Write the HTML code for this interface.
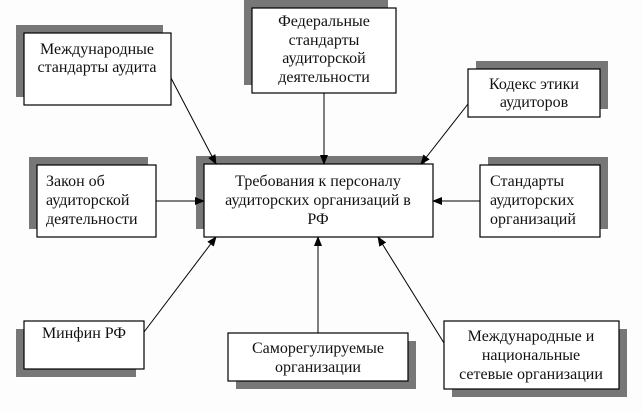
<!DOCTYPE html>
<html><head><meta charset="utf-8"><style>
html,body{margin:0;padding:0;background:#fdfdfd;}
svg{display:block;}
text{font-family:"Liberation Serif","DejaVu Serif",serif;font-size:16px;fill:#111;}
</style></head><body>
<svg width="643" height="413" viewBox="0 0 643 413" xmlns="http://www.w3.org/2000/svg">
<defs><marker id="a" markerWidth="10" markerHeight="8" refX="9" refY="4" orient="auto" markerUnits="userSpaceOnUse"><path d="M0,0 L10,4 L0,8 Z" fill="#000"/></marker></defs>
<g fill="#777">
<rect x="16" y="25" width="147" height="72"/>
<rect x="244" y="0" width="144" height="85"/>
<rect x="476" y="61" width="132" height="48"/>
<rect x="29" y="157" width="119" height="72"/>
<rect x="196" y="156" width="229" height="73"/>
<rect x="488" y="157" width="120" height="72"/>
<rect x="16" y="329" width="120" height="48"/>
<rect x="236" y="341" width="180" height="48"/>
<rect x="452" y="329" width="175" height="68"/>
</g>
<g fill="#fff" stroke="#000" stroke-width="1.2">
<rect x="24" y="33" width="147" height="72"/>
<rect x="252" y="8" width="144" height="85"/>
<rect x="468" y="69" width="132" height="48"/>
<rect x="37" y="165" width="119" height="72"/>
<rect x="204" y="164" width="229" height="73"/>
<rect x="480" y="165" width="120" height="72"/>
<rect x="24" y="321" width="120" height="48"/>
<rect x="228" y="333" width="180" height="48"/>
<rect x="444" y="321" width="175" height="68"/>
</g>
<g stroke="#000" stroke-width="1" marker-end="url(#a)">
<line x1="171" y1="78" x2="216" y2="164"/>
<line x1="324" y1="93" x2="324" y2="164"/>
<line x1="468" y1="104" x2="421" y2="164"/>
<line x1="156" y1="201" x2="204" y2="201"/>
<line x1="480" y1="201" x2="433" y2="201"/>
<line x1="144" y1="332" x2="216" y2="237"/>
<line x1="318" y1="333" x2="318" y2="237"/>
<line x1="444" y1="343" x2="378" y2="237"/>
</g>
<g text-anchor="middle">
<text x="97" y="54">Международные</text><text x="97" y="72">стандарты аудита</text>
<text x="324" y="26">Федеральные</text><text x="324" y="45">стандарты</text><text x="324" y="63">аудиторской</text><text x="324" y="82">деятельности</text>
<text x="534" y="89">Кодекс этики</text><text x="534" y="107">аудиторов</text>
<text x="318" y="186">Требования к персоналу</text><text x="318" y="205">аудиторских организаций в</text><text x="318" y="224">РФ</text>
<text x="84" y="338">Минфин РФ</text>
<text x="318" y="353">Саморегулируемые</text><text x="318" y="372">организации</text>
<text x="531" y="341">Международные и</text><text x="531" y="360">национальные</text><text x="531" y="379">сетевые организации</text>
</g>
<text x="46" y="186">Закон об</text><text x="46" y="205">аудиторской</text><text x="46" y="224">деятельности</text>
<text x="490" y="186">Стандарты</text><text x="490" y="205">аудиторских</text><text x="490" y="224">организаций</text>
</svg>
</body></html>
